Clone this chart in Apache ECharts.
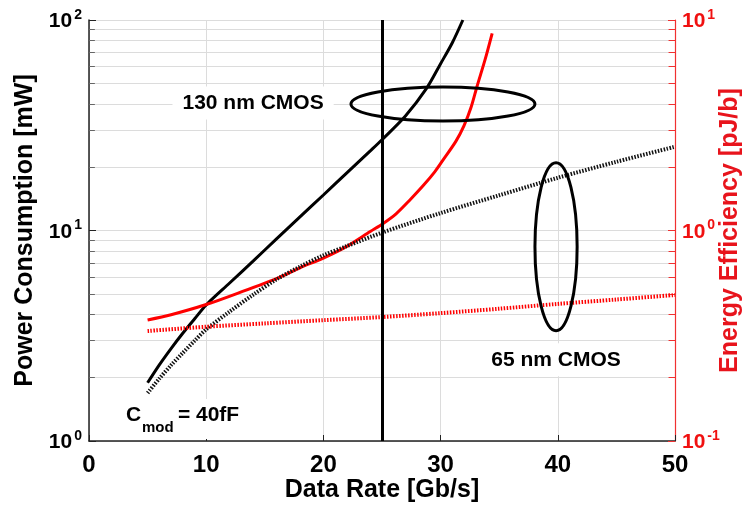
<!DOCTYPE html>
<html><head><meta charset="utf-8">
<script src="https://cdn.jsdelivr.net/npm/echarts@6/dist/echarts.min.js"></script>
<style>html,body{margin:0;padding:0;background:#fff}#c{width:747px;height:508px}</style>
</head><body><div id="c"></div>
<script>
// ---- data ----
const rate130P = [5, 6, 7, 8, 9, 10, 12, 14, 16, 18, 20, 22, 24, 25, 27, 28.8, 30, 31, 31.9];
const power130 = [1.89, 2.3, 2.75, 3.25, 3.8, 4.43, 5.63, 7.16, 9.12, 11.6, 14.75, 18.8, 23.9, 27.0, 35, 47.3, 62, 78, 100];

const rate130E = [5, 7, 10, 13, 16.3, 18, 20, 22, 24, 25.1, 26.2, 27.4, 28.5, 29.5, 30.2, 31.3, 32.0, 32.6, 33.1, 33.8, 34.4];
const eff130   = [0.376, 0.398, 0.445, 0.511, 0.601, 0.665, 0.74, 0.841, 0.989, 1.08, 1.2, 1.40, 1.63, 1.9, 2.16, 2.65, 3.15, 3.85, 4.82, 6.5, 8.65];

const rate65P = [5, 6, 7, 8, 9, 10, 12, 14, 16, 18, 20, 22, 25, 30, 35, 40, 45, 50];
const power65 = [1.69, 1.98, 2.29, 2.62, 2.99, 3.39, 4.12, 4.95, 5.86, 6.73, 7.62, 8.43, 9.77, 12.1, 14.7, 17.8, 21.2, 25.0];

const rate65E = [5, 10, 15, 20, 25, 30, 35, 40, 45, 50];
const eff65   = [0.333, 0.349, 0.362, 0.375, 0.388, 0.405, 0.425, 0.448, 0.47, 0.494];

const xTicks = [0, 10, 20, 30, 40, 50];
const leftMinor = [2,3,4,5,6,7,8,9,20,30,40,50,60,70,80,90];
const rightMinor = [0.2,0.3,0.4,0.5,0.6,0.7,0.8,0.9,2,3,4,5,6,7,8,9];
const markerRate = 25;

const FONT = '"Liberation Sans", Arial, sans-serif';
const GRID = '#dcdcdc';
function pairs(xs, ys){ return xs.map((x,i)=>[x, ys[i]]); }
function supLabel(color){
  return {
    margin: 7,
    formatter: v => { const e = Math.round(Math.log10(v)); return '{a|10}{b|' + e + '}'; },
    rich: {
      a: {fontSize:21, fontWeight:'bold', fontFamily:FONT, color:color, lineHeight:24, verticalAlign:'bottom'},
      b: {fontSize:14, fontWeight:'bold', fontFamily:FONT, color:color, lineHeight:14, verticalAlign:'top', padding:[0,0,0,2]}
    }
  };
}

const chart = echarts.init(document.getElementById('c'));
const option = {
  animation: false,
  backgroundColor: '#fff',
  grid: {left: 89, right: 72, top: 20, bottom: 67, containLabel: false, outerBoundsMode: 'none'},
  xAxis: {
    type: 'value', min: 0, max: 50, interval: 10,
    name: 'Data Rate [Gb/s]', nameLocation: 'middle', nameGap: 37, nameMoveOverlap: false,
    nameTextStyle: {fontSize: 25, fontWeight: 'bold', fontFamily: FONT, color: '#000'},
    axisLine: {lineStyle: {color: '#222', width: 1.5}},
    axisTick: {inside: true, length: 6, lineStyle: {color: '#222'}},
    axisLabel: {fontSize: 24, fontWeight: 'bold', fontFamily: FONT, color: '#000', margin: 12,
      formatter: v => xTicks.includes(v) ? String(v) : ''},
    splitLine: {show: true, lineStyle: {color: GRID, width: 1}}
  },
  yAxis: [
    {
      type: 'log', logBase: 10, min: 1, max: 100, position: 'left',
      name: 'Power Consumption [mW]', nameLocation: 'middle', nameGap: 51, nameRotate: 90, nameMoveOverlap: false,
      nameTextStyle: {fontSize: 25, fontWeight: 'bold', fontFamily: FONT, color: '#000'},
      axisLine: {show: true, lineStyle: {color: '#222', width: 1.5}},
      axisTick: {inside: true, length: 7, lineStyle: {color: '#222'}},
      axisLabel: supLabel('#000'),
      splitLine: {show: true, lineStyle: {color: GRID, width: 1}},
      minorTick: {show: false}
    },
    {
      type: 'log', logBase: 10, min: 0.1, max: 10, position: 'right',
      name: 'Energy Efficiency [pJ/b]', nameLocation: 'middle', nameGap: 43, nameRotate: 90, nameMoveOverlap: false,
      nameTextStyle: {fontSize: 25, fontWeight: 'bold', fontFamily: FONT, color: '#e8141c'},
      axisLine: {show: true, lineStyle: {color: '#f03030', width: 1.2}},
      axisTick: {inside: true, length: 7, lineStyle: {color: '#f03030'}},
      axisLabel: supLabel('#f01010'),
      splitLine: {show: false}
    }
  ],
  series: [
    {
      name: 'grid-left', type: 'line', yAxisIndex: 0, z: 1, silent: true,
      data: [[0, 1]], showSymbol: false, lineStyle: {opacity: 0},
      markLine: {
        silent: true, symbol: 'none', label: {show: false}, animation: false, z: 1,
        lineStyle: {color: GRID, width: 1, type: 'solid'},
        data: leftMinor.map(v => ({yAxis: v})).concat(
          leftMinor.map(v => [{coord: [0, v], lineStyle: {color: '#666', width: 1, type: 'solid'}}, {coord: [0.5, v]}]))
      }
    },
    {
      name: 'grid-right', type: 'line', yAxisIndex: 1, z: 1, silent: true,
      data: [[0, 1]], showSymbol: false, lineStyle: {opacity: 0},
      markLine: {
        silent: true, symbol: 'none', label: {show: false}, animation: false, z: 1,
        lineStyle: {color: '#f03030', width: 1, type: 'solid'},
        data: rightMinor.map(v => [{coord: [49.45, v]}, {coord: [50, v]}])
      }
    },
    {
      name: '130 nm power', type: 'line', yAxisIndex: 0, z: 5,
      data: pairs(rate130P, power130), smooth: 0.3, showSymbol: false,
      lineStyle: {color: '#000', width: 3}
    },
    {
      name: '130 nm efficiency', type: 'line', yAxisIndex: 1, z: 5,
      data: pairs(rate130E, eff130), smooth: 0.3, showSymbol: false,
      lineStyle: {color: '#ff0000', width: 3}
    },
    {
      name: '65 nm power', type: 'line', yAxisIndex: 0, z: 5,
      data: pairs(rate65P, power65), smooth: 0.3, showSymbol: false,
      lineStyle: {color: '#111', width: 4, type: [1.5, 1.5]}
    },
    {
      name: '65 nm efficiency', type: 'line', yAxisIndex: 1, z: 5,
      data: pairs(rate65E, eff65), smooth: 0.3, showSymbol: false,
      lineStyle: {color: '#ff0000', width: 4, type: [1.5, 1.5]},
      markLine: {
        silent: true, symbol: 'none', label: {show: false}, animation: false, z: 6,
        lineStyle: {color: '#000', width: 3, type: 'solid'},
        data: [{xAxis: markerRate}]
      }
    }
  ]
};
chart.setOption(option);

// annotations anchored in data coordinates
const P = (x, y) => chart.convertToPixel({xAxisIndex: 0, yAxisIndex: 0}, [x, y]);
const e130c = P(30.2, 39.9), e130l = P(22.35, 39.9), e130t = P(30.2, 48.1);
const e65c = P(39.85, 8.38), e65l = P(38.05, 8.38), e65t = P(39.85, 21.0), e65b = P(39.85, 3.34);
const t130 = P(14.0, 40.3), t65 = P(39.85, 2.43), tC = P(3.15, 1.33);
const boldFont = 'bold 21px ' + FONT;
chart.setOption({
  graphic: [
    {type: 'ellipse', z: 20, shape: {cx: e130c[0], cy: e130c[1], rx: e130c[0] - e130l[0], ry: e130c[1] - e130t[1]},
      style: {fill: 'none', stroke: '#000', lineWidth: 3}},
    {type: 'ellipse', z: 20, shape: {cx: e65c[0], cy: (e65t[1] + e65b[1]) / 2, rx: e65c[0] - e65l[0], ry: (e65b[1] - e65t[1]) / 2},
      style: {fill: 'none', stroke: '#000', lineWidth: 3}},
    {type: 'text', z: 3, x: t130[0], y: t130[1],
      style: {text: '130 nm CMOS', font: boldFont, fill: '#000', align: 'center', verticalAlign: 'middle', backgroundColor: '#fff', padding: [6, 10]}},
    {type: 'text', z: 3, x: t65[0], y: t65[1],
      style: {text: '65 nm CMOS', font: boldFont, fill: '#000', align: 'center', verticalAlign: 'middle', backgroundColor: '#fff', padding: [6, 10]}},
    {type: 'rect', z: 3, shape: {x: tC[0] - 4, y: tC[1] - 16, width: 126, height: 40}, style: {fill: '#fff'}},
    {type: 'text', z: 4, x: tC[0], y: tC[1],
      style: {text: 'C', font: boldFont, fill: '#000', align: 'left', verticalAlign: 'middle'}},
    {type: 'text', z: 4, x: tC[0] + 16, y: tC[1] + 13,
      style: {text: 'mod', font: 'bold 15px ' + FONT, fill: '#000', align: 'left', verticalAlign: 'middle'}},
    {type: 'text', z: 4, x: tC[0] + 52, y: tC[1],
      style: {text: '= 40fF', font: boldFont, fill: '#000', align: 'left', verticalAlign: 'middle'}}
  ]
});
</script>
</body></html>
